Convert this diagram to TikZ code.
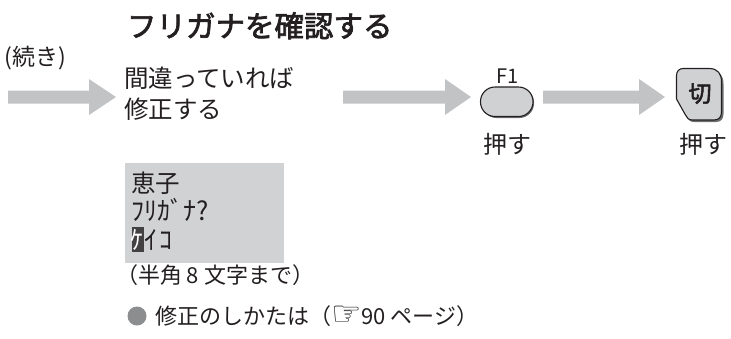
\documentclass[tikz,border=0pt]{standalone}
\usepackage{fontspec}
\setmainfont{Noto Sans CJK JP}
\newfontfamily\titlefont[FakeBold=2.4]{Noto Sans CJK JP}
\newfontfamily\symfont{DejaVu Sans}
\definecolor{ink}{HTML}{231F20}
\definecolor{arrowgray}{HTML}{C2C3C5}
\definecolor{lcdgray}{HTML}{D1D2D4}
\definecolor{keygray}{HTML}{D0D1D3}
\definecolor{shadowgray}{HTML}{6D6E70}
\definecolor{bulletgray}{HTML}{8C8D8F}
\begin{document}
\begin{tikzpicture}[x=1pt,y=-1pt,
  txt/.style={inner sep=0pt,outer sep=0pt,anchor=base west,text=ink,font=\fontsize{24.5}{28}\selectfont},
  ctxt/.style={inner sep=0pt,outer sep=0pt,anchor=base,text=ink,font=\fontsize{24}{28}\selectfont},
  lcdtxt/.style={inner sep=0pt,outer sep=0pt,anchor=base west,text=ink,font=\fontsize{26}{28}\selectfont},
  flowarrow/.style={fill=arrowgray,draw=none},
  keyface/.style={fill=keygray,draw=ink,line width=1.1pt},
  keyshadow/.style={fill=shadowgray,draw=none}]
\useasboundingbox (0,0) rectangle (731,338);

% title
\node[txt,font=\fontsize{29.5}{32}\titlefont] (title) at (127,37) {フリガナを確認する};
\node[txt,font=\fontsize{23}{26}\selectfont] (cont) at (5,65) {(続き)};

% arrow 1
\coordinate (a1s) at (8,97);
\fill[flowarrow] (a1s) ++(0,-6.5) -- ++(81,0) -- ++(0,-11.5) -- ++(27,18) -- ++(-27,18) -- ++(0,-11.5) -- ++(-81,0) -- cycle;

% step text
\node[txt] (s1) at (124,87) {間違っていれば};
\node[txt] (s2) at (124,118) {修正する};

% arrow 2
\coordinate (a2s) at (343,97);
\fill[flowarrow] (a2s) ++(0,-6.5) -- ++(102,0) -- ++(0,-11.5) -- ++(26,18) -- ++(-26,18) -- ++(0,-11.5) -- ++(-102,0) -- cycle;

% F1 key
\coordinate (f1c) at (507,102);
\fill[keyshadow,rounded corners=14.5pt] (482,88) rectangle (534,118);
\draw[keyface,rounded corners=14.5pt] (480.5,87) rectangle (533,116.5);
\node[ctxt,font=\fontsize{20}{22}\selectfont] (f1) at (508,83) {F1};
\node[ctxt] (push1) at (507,153) {押す};

% arrow 3
\coordinate (a3s) at (543,97);
\fill[flowarrow] (a3s) ++(0,-6.5) -- ++(96,0) -- ++(0,-11.5) -- ++(26,18) -- ++(-26,18) -- ++(0,-11.5) -- ++(-96,0) -- cycle;

% off key
\fill[keyshadow] (685,70.5) -- (711,70.5) .. controls (720,70.5) and (723.5,76) .. (723.5,84) -- (723.5,114) .. controls (723.5,119) and (721,122) .. (716,122) -- (694,122) .. controls (690,122) and (688.5,120) .. (687,117) -- (679,101) -- (678.5,78) .. controls (678.5,73) and (681,70.5) .. (685,70.5) -- cycle;
\draw[keyface] (683.5,68.5) -- (709,68.5) .. controls (718,68.5) and (721.5,74) .. (721.5,82) -- (721.5,112) .. controls (721.5,117) and (719,120) .. (714,120) -- (692.5,120) .. controls (688.5,120) and (687,118) .. (685.5,115) -- (676.5,99) -- (676.5,76) .. controls (676.5,71) and (679,68.5) .. (683.5,68.5) -- cycle;
\node[ctxt,font=\fontsize{23}{26}\titlefont] (offkey) at (700,102) {切};
\node[ctxt] (push2) at (703,153) {押す};

% LCD
\fill[lcdgray] (125,163) rectangle (284,263);
\fill[ink!85] (131.5,227) rectangle (143.5,252);
\node[txt] (lcd1) at (131,192) {恵子};
\node[lcdtxt] (lcd2) at (131,220) {ﾌﾘｶﾞﾅ?};
\node[lcdtxt,text=white] (lcd3a) at (130.5,249) {ｹ};
\node[lcdtxt] (lcd3b) at (144.5,249) {ｲ};
\node[lcdtxt] (lcd3c) at (159.5,249) {ｺ};

% notes
\node[txt,font=\fontsize{22}{24}\selectfont] (note1) at (116,283) {（半角 8 文字まで）};
\fill[bulletgray] (137,316) circle (9.5);
\node[txt,font=\fontsize{22}{24}\selectfont] (note2) at (155,324) {修正のしかたは（\raisebox{-1pt}{\symfont\fontsize{34}{34}\selectfont ☞}90 ページ）};
\end{tikzpicture}
\end{document}
